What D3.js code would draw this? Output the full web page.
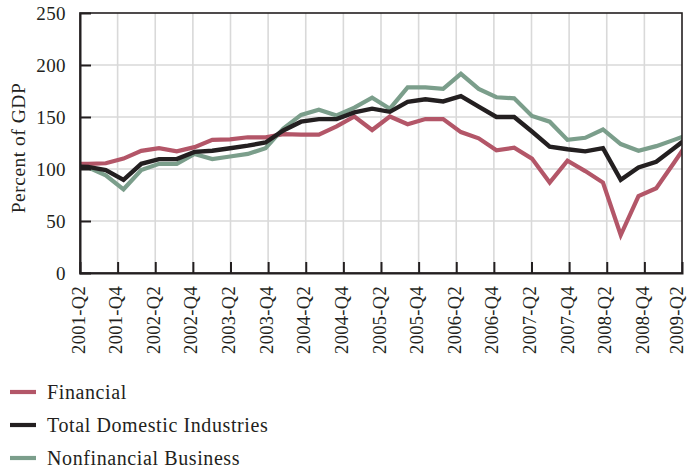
<!DOCTYPE html>
<html>
<head>
<meta charset="utf-8">
<script src="https://cdn.jsdelivr.net/npm/d3@7"></script>
<style>
  html, body { margin: 0; padding: 0; background: #ffffff; }
  svg { display: block; }
  text { font-family: "Liberation Serif", "DejaVu Serif", serif; fill: #231f20; }
</style>
</head>
<body>
<svg id="chart" width="688" height="469"></svg>
<script>
// ---- Data (quarterly, 2000-Q4 .. 2009-Q3; outermost quarters fall outside the plotted window) ----
const quarters = [
  "2000-Q4",
  "2001-Q1","2001-Q2","2001-Q3","2001-Q4",
  "2002-Q1","2002-Q2","2002-Q3","2002-Q4",
  "2003-Q1","2003-Q2","2003-Q3","2003-Q4",
  "2004-Q1","2004-Q2","2004-Q3","2004-Q4",
  "2005-Q1","2005-Q2","2005-Q3","2005-Q4",
  "2006-Q1","2006-Q2","2006-Q3","2006-Q4",
  "2007-Q1","2007-Q2","2007-Q3","2007-Q4",
  "2008-Q1","2008-Q2","2008-Q3","2008-Q4",
  "2009-Q1","2009-Q2","2009-Q3"
];
const financial = [105, 105, 105.5, 110, 117.5, 120, 117, 121, 128, 128.5, 130.5, 130.5,
  133.5, 133, 133, 141, 150.5, 137.5, 150.5, 143, 148, 148, 135.5, 129.5,
  118, 120.5, 110, 87, 108, 98, 87, 36.5, 74, 81.5, 106, 131];
const totalDomestic = [102.5, 102, 99, 89.5, 105, 109.5, 109.5, 116.5, 117.5, 120, 122.5, 125.5,
  137, 145.5, 148, 148, 154.5, 158, 155, 164.5, 167, 165, 170, 160,
  150, 150, 136, 121.5, 119, 117, 120, 89.5, 101.5, 107, 120, 133];
const nonfinancial = [103.5, 101.5, 94, 80.5, 99, 105, 105, 114.5, 109.5, 112, 114.5, 120,
  139, 152, 157, 151.5, 159, 168.5, 158, 178.5, 178.5, 177, 191.5, 177,
  169, 168, 151, 145.5, 128, 130, 138, 124, 117.5, 122, 128, 134];
const tickLabels = ["2001-Q2","2001-Q4","2002-Q2","2002-Q4","2003-Q2","2003-Q4","2004-Q2","2004-Q4",
  "2005-Q2","2005-Q4","2006-Q2","2006-Q4","2007-Q2","2007-Q4","2008-Q2","2008-Q4","2009-Q2"];
const yTicks = [0, 50, 100, 150, 200, 250];
const seriesNames = ["Financial", "Total Domestic Industries", "Nonfinancial Business"];
const seriesColors = ["#b35668", "#231f20", "#7b9e8b"];

// ---- Layout ----
const margin = {left: 80, right: 6, top: 13, bottom: 196};
const W = 688, H = 469;
const pw = W - margin.left - margin.right;
const ph = H - margin.top - margin.bottom;

const svg = d3.select("#chart");
const g = svg.append("g").attr("transform", `translate(${margin.left},${margin.top})`);

// Scales
const xLabel = d3.scalePoint().domain(tickLabels).range([0, pw]);
// data index: 0 = 2000-Q4 ; plotted window covers index ~0.55 .. ~34.45
const xData = d3.scaleLinear().domain([0.55, 34.45]).range([0, pw]);
const y = d3.scaleLinear().domain([0, 250]).range([ph, 0]);

// Gridlines
g.append("g").selectAll("line").data(yTicks.filter(d => d > 0 && d < 250)).join("line")
  .attr("x1", 0).attr("x2", pw).attr("y1", d => y(d)).attr("y2", d => y(d))
  .attr("stroke", "#d9d9d9").attr("stroke-width", 1.6);
g.append("g").selectAll("line").data(tickLabels.slice(1, -1)).join("line")
  .attr("x1", d => xLabel(d)).attr("x2", d => xLabel(d)).attr("y1", 0).attr("y2", ph)
  .attr("stroke", "#d9d9d9").attr("stroke-width", 1.6);

// Lines (clipped to plot window)
svg.append("defs").append("clipPath").attr("id", "plotclip")
  .append("rect").attr("x", 0).attr("y", -10).attr("width", pw).attr("height", ph + 20);

const line = d3.line().x((d, i) => xData(i)).y(d => y(d));
const lg = g.append("g").attr("clip-path", "url(#plotclip)");
const seriesData = [financial, totalDomestic, nonfinancial];
[0, 2, 1].forEach(si => {
  lg.append("path").datum(seriesData[si])
    .attr("fill", "none")
    .attr("stroke", seriesColors[si])
    .attr("stroke-width", si === 1 ? 4.4 : 4.2)
    .attr("stroke-linejoin", "miter")
    .attr("d", line);
});

// Frame: top/right border
g.append("rect").attr("x", 0).attr("y", 0).attr("width", pw).attr("height", ph)
  .attr("fill", "none").attr("stroke", "#231f20").attr("stroke-width", 1.6);

// Axes
const yAxis = d3.axisLeft(y).tickValues(yTicks).tickSize(-11);
const yg = g.append("g").call(yAxis);
yg.select(".domain").attr("stroke", "#231f20").attr("stroke-width", 2);
yg.selectAll(".tick line").attr("stroke", "#231f20").attr("stroke-width", 2)
  .filter(d => d === 0 || d === 250).remove();
yg.selectAll(".tick text").attr("font-size", 19).attr("font-family", "Liberation Serif, serif")
  .attr("fill", "#231f20").attr("x", -14).attr("letter-spacing", 0.4);

const xAxis = d3.axisBottom(xLabel).tickSize(-11).tickPadding(0);
const xg = g.append("g").attr("transform", `translate(0,${ph})`).call(xAxis);
xg.select(".domain").attr("stroke", "#231f20").attr("stroke-width", 2);
xg.selectAll(".tick line").attr("stroke", "#231f20").attr("stroke-width", 2)
  .filter((d, i) => i === 0 || i === tickLabels.length - 1).remove();
const lastLabel = tickLabels[tickLabels.length - 1];
xg.selectAll(".tick text")
  .attr("font-size", 18.5).attr("font-family", "Liberation Serif, serif").attr("fill", "#231f20")
  .attr("letter-spacing", 0.3)
  .attr("transform", "rotate(-90)")
  .attr("text-anchor", "end")
  .attr("x", -13).attr("y", d => d === lastLabel ? -4 : 0).attr("dy", "0.22em");

// Y title
svg.append("text")
  .attr("transform", `translate(18,${margin.top + ph / 2 + 5}) rotate(-90)`)
  .attr("text-anchor", "middle").attr("dy", "0.35em")
  .attr("font-size", 19.5).attr("letter-spacing", 0.5)
  .text("Percent of GDP");

// Legend
const legY = [392, 425, 458];
const leg = svg.append("g");
seriesNames.forEach((name, i) => {
  leg.append("line").attr("x1", 10).attr("x2", 36).attr("y1", legY[i]).attr("y2", legY[i])
    .attr("stroke", seriesColors[i]).attr("stroke-width", 4.2);
  leg.append("text").attr("x", 47).attr("y", legY[i]).attr("dy", "0.35em")
    .attr("font-size", 20).attr("letter-spacing", 0.6).text(name);
});
</script>
</body>
</html>
